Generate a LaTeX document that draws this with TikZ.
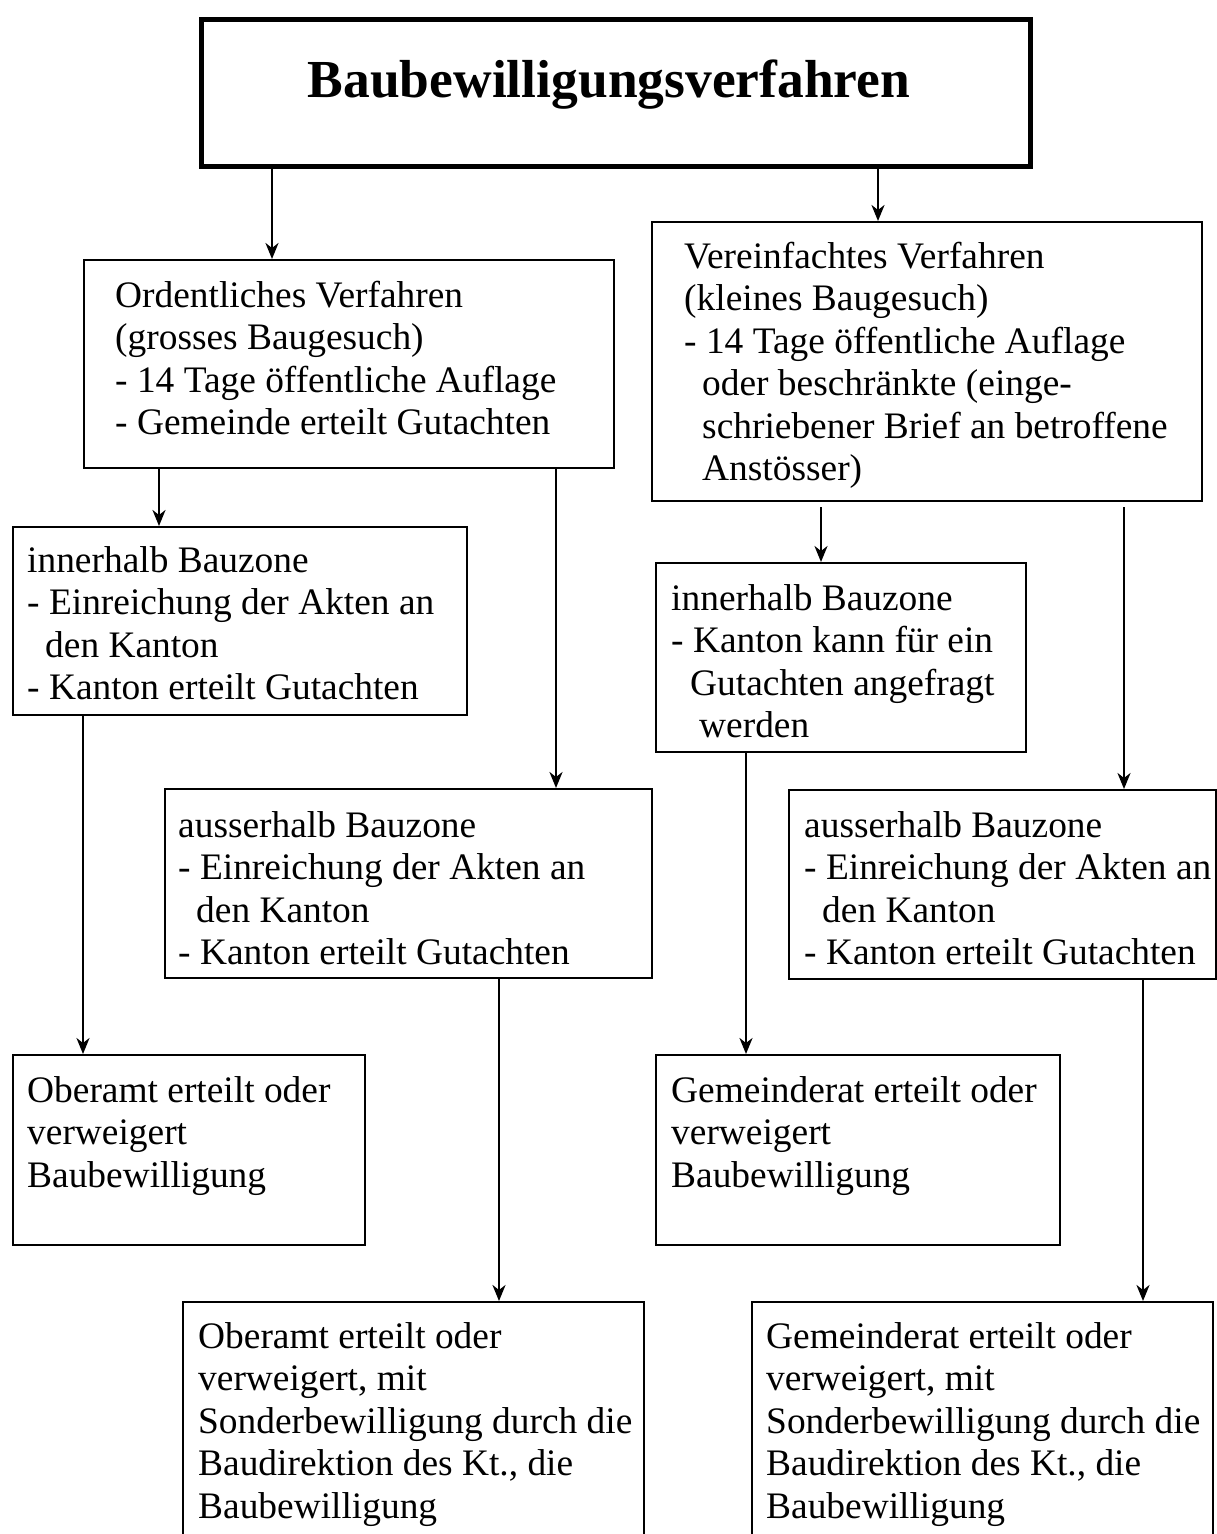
\documentclass[tikz,border=0pt]{standalone}
\usepackage{fontspec}
\setmainfont{Liberation Serif}
\usetikzlibrary{arrows.meta}
\begin{document}
\begin{tikzpicture}[x=1pt,y=-1pt,
  box/.style={draw, line width=2.4pt, inner sep=0pt, anchor=north west},
  tbox/.style={draw, line width=5.5pt, inner sep=0pt, anchor=north west},
  txt/.style={inner sep=0pt, anchor=north west, align=left, font=\fontsize{37.4}{42.5}\selectfont},
  arr/.style={line width=2.4pt, -{Stealth[length=16pt,width=13pt,inset=5pt]}}]
\useasboundingbox (0,0) rectangle (1217,1534);
\clip (0,0) rectangle (1217,1534);
\fill[white] (0,0) rectangle (1217,1534);

% boxes
\node[tbox, minimum width=829pt, minimum height=147pt] (title) at (198.5,16.5) {};
\node[box, minimum width=530pt, minimum height=208pt] (ord) at (83,259) {};
\node[box, minimum width=550pt, minimum height=279pt] (ver) at (651,221) {};
\node[box, minimum width=454pt, minimum height=188pt] (inL) at (12,526) {};
\node[box, minimum width=487pt, minimum height=189pt] (ausL) at (164,788) {};
\node[box, minimum width=370pt, minimum height=189pt] (inR) at (655,562) {};
\node[box, minimum width=427pt, minimum height=189pt] (ausR) at (788,789) {};
\node[box, minimum width=352pt, minimum height=190pt] (obL) at (12,1054) {};
\node[box, minimum width=461pt, minimum height=260pt] (sonL) at (182,1301) {};
\node[box, minimum width=404pt, minimum height=190pt] (gem) at (655,1054) {};
\node[box, minimum width=461pt, minimum height=260pt] (sonR) at (751,1301) {};

% texts
\node[inner sep=0pt, anchor=base, font=\bfseries\fontsize{53.5}{60}\selectfont] (titleT) at (609,97) {Baubewilligungsverfahren};
\node[txt] (ordT) at (115,277.25) {\strut Ordentliches Verfahren\\(grosses Baugesuch)\\- 14 Tage öffentliche Auflage\\- Gemeinde erteilt Gutachten};
\node[txt] (verT) at (684,238.25) {\strut Vereinfachtes Verfahren\\(kleines Baugesuch)\\- 14 Tage öffentliche Auflage\\\hspace*{18pt}oder beschränkte (einge-\\\hspace*{18pt}schriebener Brief an betroffene\\\hspace*{18pt}Anstösser)};
\node[txt] (inLT) at (27,542.25) {\strut innerhalb Bauzone\\- Einreichung der Akten an\\\hspace*{18pt}den Kanton\\- Kanton erteilt Gutachten};
\node[txt] (ausLT) at (178,807.25) {\strut ausserhalb Bauzone\\- Einreichung der Akten an\\\hspace*{18pt}den Kanton\\- Kanton erteilt Gutachten};
\node[txt] (inRT) at (671,580.25) {\strut innerhalb Bauzone\\- Kanton kann für ein\\\hspace*{19pt}Gutachten angefragt\\\hspace*{28pt}werden};
\node[txt] (ausRT) at (804,807.25) {\strut ausserhalb Bauzone\\- Einreichung der Akten an\\\hspace*{18pt}den Kanton\\- Kanton erteilt Gutachten};
\node[txt] (obLT) at (27,1072.25) {\strut Oberamt erteilt oder\\verweigert\\Baubewilligung};
\node[txt] (sonLT) at (198,1318.25) {\strut Oberamt erteilt oder\\verweigert, mit\\Sonderbewilligung durch die\\Baudirektion des Kt., die\\Baubewilligung};
\node[txt] (gemT) at (671,1072.25) {\strut Gemeinderat erteilt oder\\verweigert\\Baubewilligung};
\node[txt] (sonRT) at (766,1318.25) {\strut Gemeinderat erteilt oder\\verweigert, mit\\Sonderbewilligung durch die\\Baudirektion des Kt., die\\Baubewilligung};

% connectors
\draw[arr] (272,0 |- title.south) -- (272,0 |- ord.north);
\draw[arr] (878,0 |- title.south) -- (878,0 |- ver.north);
\draw[arr] (159,0 |- ord.south) -- (159,0 |- inL.north);
\draw[arr] (556,0 |- ord.south) -- (556,0 |- ausL.north);
\draw[arr, shorten <=5pt] (821,0 |- ver.south) -- (821,0 |- inR.north);
\draw[arr, shorten <=5pt] (1124,0 |- ver.south) -- (1124,0 |- ausR.north);
\draw[arr] (83,0 |- inL.south) -- (83,0 |- obL.north);
\draw[arr] (499,0 |- ausL.south) -- (499,0 |- sonL.north);
\draw[arr] (746,0 |- inR.south) -- (746,0 |- gem.north);
\draw[arr] (1143,0 |- ausR.south) -- (1143,0 |- sonR.north);
\end{tikzpicture}
\end{document}
